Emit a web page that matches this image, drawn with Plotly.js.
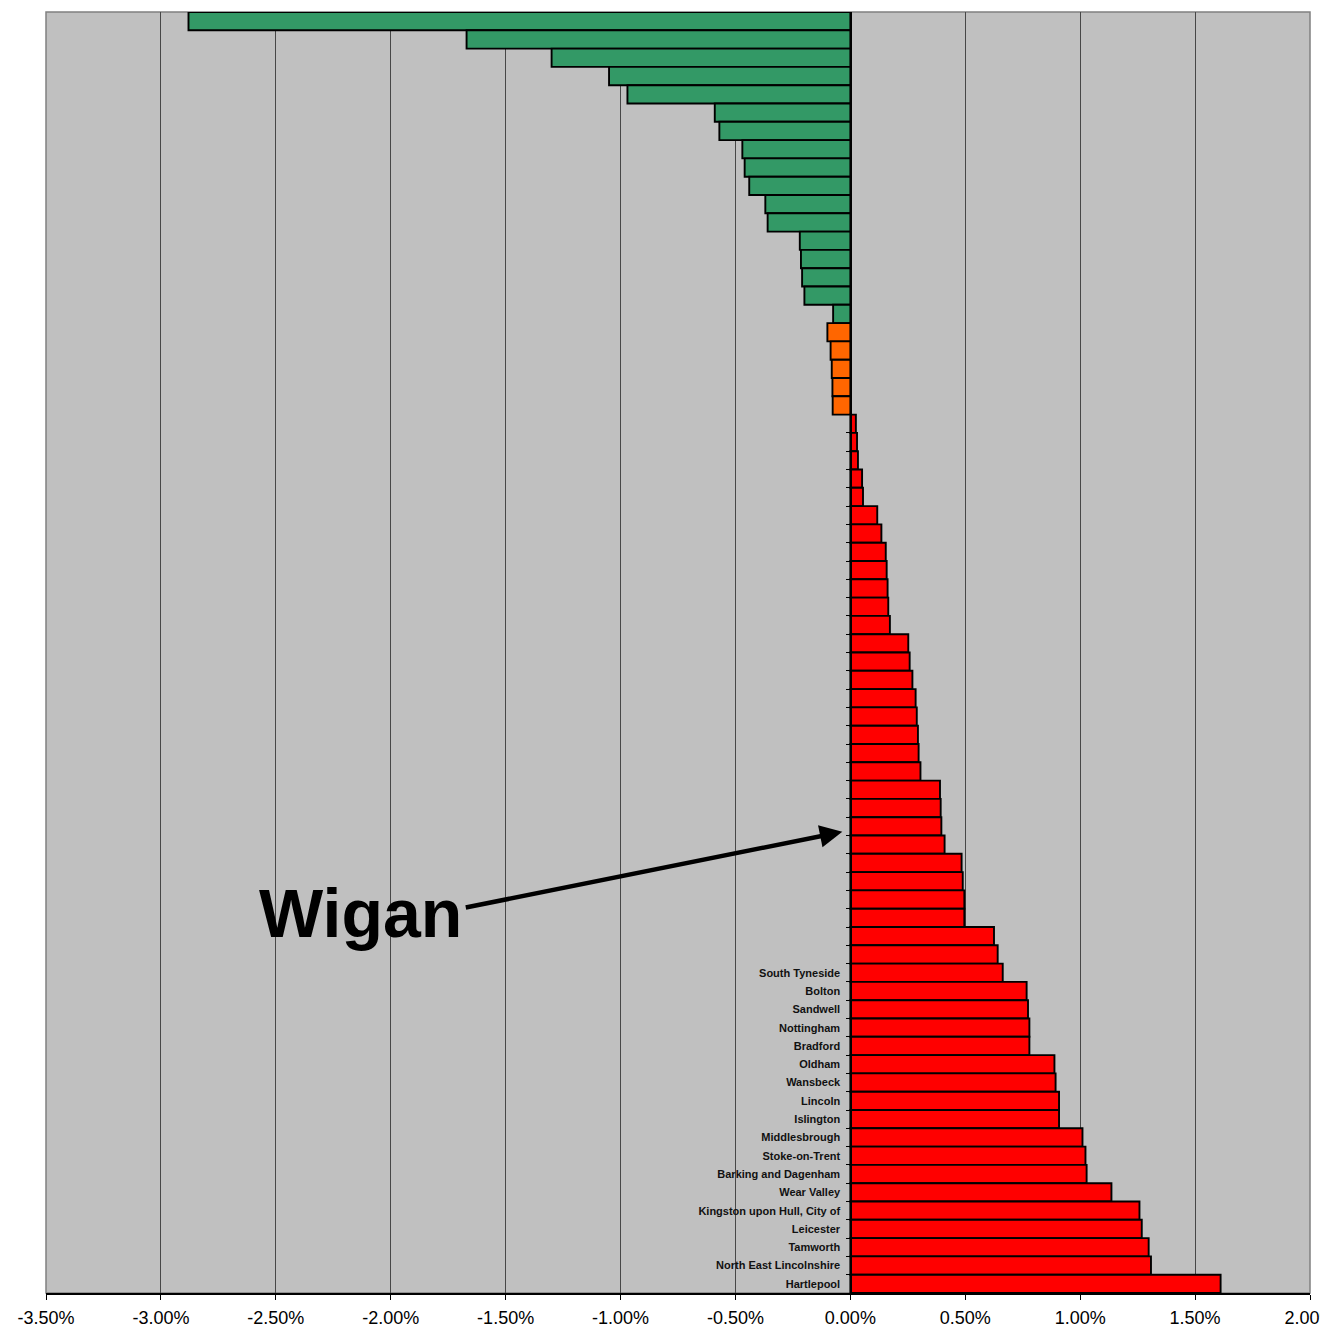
<!DOCTYPE html>
<html>
<head>
<meta charset="utf-8">
<script src="https://cdn.plot.ly/plotly-3.0.1.min.js"></script>
<style>html,body{margin:0;padding:0;background:#fff;}#chart{width:1320px;height:1329px;}</style>
</head>
<body>
<div id="chart"></div>
<script>
// Values in percent, listed from top bar to bottom bar
const greenValues = [-2.88, -1.67, -1.30, -1.05, -0.97, -0.59, -0.57, -0.47, -0.46, -0.44, -0.37, -0.36, -0.22, -0.215, -0.21, -0.20, -0.075];
const orangeValues = [-0.100, -0.086, -0.081, -0.078, -0.077];
const redValues = [0.024, 0.029, 0.033, 0.051, 0.055, 0.117, 0.135, 0.154, 0.158, 0.162, 0.165, 0.172,
  0.252, 0.258, 0.270, 0.284, 0.289, 0.294, 0.297, 0.305, 0.390, 0.393, 0.396, 0.410,
  0.484, 0.489, 0.496, 0.496, 0.625, 0.641, 0.663,
  0.767, 0.773, 0.779, 0.779, 0.888, 0.893, 0.908, 0.908, 1.010, 1.023, 1.028, 1.136,
  1.258, 1.268, 1.298, 1.308, 1.611];
const redLabels = ["", "", "", "", "", "", "", "", "", "", "", "", "", "", "", "", "", "", "", "", "", "", "", "", "", "", "", "", "", "",
  "South Tyneside", "Bolton", "Sandwell", "Nottingham", "Bradford", "Oldham", "Wansbeck", "Lincoln", "Islington",
  "Middlesbrough", "Stoke-on-Trent", "Barking and Dagenham", "Wear Valley", "Kingston upon Hull, City of",
  "Leicester", "Tamworth", "North East Lincolnshire", "Hartlepool"];
const xTickValues = [-3.5, -3.0, -2.5, -2.0, -1.5, -1.0, -0.5, 0.0, 0.5, 1.0, 1.5, 2.0];
const annotationText = "Wigan";

const nG = greenValues.length, nO = orangeValues.length, nR = redValues.length;
const N = nG + nO + nR;
const idx = (n, off) => Array.from({length: n}, (_, i) => i + off);
const yG = idx(nG, 0), yO = idx(nO, nG), yR = idx(nR, nG + nO);

const outline = {color: '#000000', width: 1.9};
const traces = [
  {type: 'bar', orientation: 'h', x: greenValues, y: yG, marker: {color: '#339966', line: outline}, hoverinfo: 'x'},
  {type: 'bar', orientation: 'h', x: orangeValues, y: yO, marker: {color: '#FF6600', line: outline}, hoverinfo: 'x'},
  {type: 'bar', orientation: 'h', x: redValues, y: yR, marker: {color: '#FF0000', line: outline}, hoverinfo: 'x'}
];

const tickVals = [], tickText = [];
redLabels.forEach((l, i) => { if (l) { tickVals.push(yR[i]); tickText.push(l); } });

const xmin = xTickValues[0], xmax = xTickValues[xTickValues.length - 1];
const font = "'Liberation Sans', Arial, Helvetica, sans-serif";

const layout = {
  width: 1320, height: 1329,
  margin: {l: 46, r: 10, t: 12, b: 36},
  paper_bgcolor: '#ffffff',
  plot_bgcolor: '#C0C0C0',
  showlegend: false,
  barmode: 'overlay',
  bargap: 0,
  font: {family: font, color: '#000'},
  xaxis: {
    range: [xmin, xmax], fixedrange: true,
    tickvals: xTickValues,
    ticktext: xTickValues.map(v => v.toFixed(2) + '%'),
    ticks: 'outside', ticklen: 5, tickcolor: '#000', tickwidth: 1,
    showgrid: true, gridcolor: '#474747', gridwidth: 1,
    zeroline: true, zerolinecolor: '#000', zerolinewidth: 1.5,
    showline: true, linecolor: '#000', linewidth: 1.5,
    tickfont: {size: 18, family: font, color: '#000'},
    ticklabelstandoff: 3,
    ticklabeloverflow: 'allow',
    automargin: false
  },
  yaxis: {
    range: [N - 0.5, -0.5], fixedrange: true,
    anchor: 'free', position: (0 - xmin) / (xmax - xmin),
    tickvals: tickVals, ticktext: tickText,
    ticks: '', showgrid: false, zeroline: false,
    showline: true, linecolor: '#000', linewidth: 1.5,
    tickfont: {size: 11, family: font, color: '#111', weight: 'bold'},
    ticklabelstandoff: 8,
    minor: {dtick: 1, tick0: 0.5, ticks: 'outside', ticklen: 4, tickcolor: '#000', showgrid: false},
    automargin: false
  },
  shapes: [
    {type: 'rect', xref: 'paper', yref: 'paper', x0: 0, x1: 1, y0: 0, y1: 1,
     line: {color: '#808080', width: 1.5}, layer: 'below'}
  ],
  annotations: [
    {xref: 'x', yref: 'y', x: -0.035, y: 44.3, axref: 'x', ayref: 'y', ax: -1.68, ay: 48.45,
     text: '', showarrow: true, arrowhead: 2, arrowsize: 1.0, arrowwidth: 4.5, arrowcolor: '#000', standoff: 0},
    {xref: 'x', yref: 'y', x: -2.13, y: 48.75, text: annotationText, showarrow: false,
     xanchor: 'center', yanchor: 'middle',
     font: {size: 68, family: font, color: '#000', weight: 'bold'}}
  ]
};

Plotly.newPlot('chart', traces, layout, {displayModeBar: false, staticPlot: true});
</script>
</body>
</html>
